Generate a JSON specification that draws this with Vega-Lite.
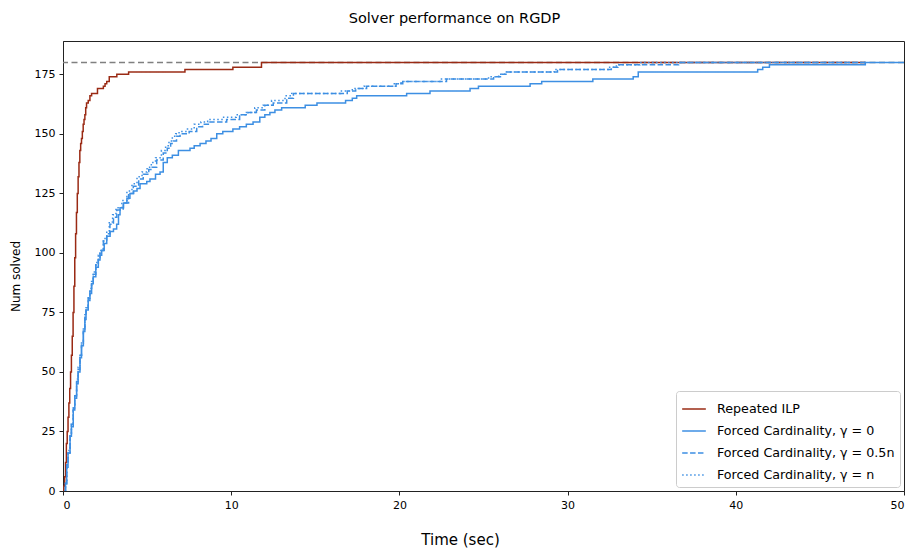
{
  "$schema": "https://vega.github.io/schema/vega-lite/v6.json",
  "width": 841,
  "height": 450,
  "autosize": {"type": "none"},
  "padding": {"left": 63, "top": 41, "right": 5, "bottom": 62},
  "background": "white",
  "title": {"text": "Solver performance on RGDP", "font": "DejaVu Sans", "fontSize": 14.5, "fontWeight": "normal", "color": "black", "anchor": "middle", "offset": 15, "dx": -29},
  "config": {
    "view": {"stroke": "#222", "strokeWidth": 1},
    "axis": {"grid": false, "labelFont": "DejaVu Sans", "titleFont": "DejaVu Sans", "labelFontSize": 11, "labelColor": "black", "titleColor": "black", "titleFontWeight": "normal", "domainColor": "#222", "tickColor": "#222", "tickSize": 4, "labelPadding": 4},
    "legend": {"labelFont": "DejaVu Sans", "labelFontSize": 12.7, "labelColor": "black", "labelLimit": 400}
  },
  "layer": [
    {
      "data": {"values": [{"ref": 180}]},
      "mark": {"type": "rule", "color": "#808080", "strokeWidth": 1.5, "strokeDash": [6, 3.5]},
      "encoding": {"y": {"field": "ref", "type": "quantitative", "scale": {"domain": [0, 189]}}}
    },
    {
      "data": {"values": [
        {"s": "Repeated ILP", "t": 0, "n": 0}, {"s": "Repeated ILP", "t": 0.05, "n": 2}, {"s": "Repeated ILP", "t": 0.1, "n": 6}, {"s": "Repeated ILP", "t": 0.15, "n": 12}, {"s": "Repeated ILP", "t": 0.2, "n": 20}, {"s": "Repeated ILP", "t": 0.25, "n": 25}, {"s": "Repeated ILP", "t": 0.3, "n": 31}, {"s": "Repeated ILP", "t": 0.35, "n": 37}, {"s": "Repeated ILP", "t": 0.4, "n": 43}, {"s": "Repeated ILP", "t": 0.45, "n": 50}, {"s": "Repeated ILP", "t": 0.5, "n": 57}, {"s": "Repeated ILP", "t": 0.55, "n": 65}, {"s": "Repeated ILP", "t": 0.6, "n": 75}, {"s": "Repeated ILP", "t": 0.65, "n": 86}, {"s": "Repeated ILP", "t": 0.7, "n": 98}, {"s": "Repeated ILP", "t": 0.75, "n": 108}, {"s": "Repeated ILP", "t": 0.8, "n": 117}, {"s": "Repeated ILP", "t": 0.85, "n": 125}, {"s": "Repeated ILP", "t": 0.9, "n": 132}, {"s": "Repeated ILP", "t": 0.95, "n": 138}, {"s": "Repeated ILP", "t": 1.0, "n": 143}, {"s": "Repeated ILP", "t": 1.05, "n": 146}, {"s": "Repeated ILP", "t": 1.1, "n": 148}, {"s": "Repeated ILP", "t": 1.15, "n": 151}, {"s": "Repeated ILP", "t": 1.2, "n": 154}, {"s": "Repeated ILP", "t": 1.25, "n": 156}, {"s": "Repeated ILP", "t": 1.3, "n": 158}, {"s": "Repeated ILP", "t": 1.35, "n": 161}, {"s": "Repeated ILP", "t": 1.4, "n": 163}, {"s": "Repeated ILP", "t": 1.5, "n": 164}, {"s": "Repeated ILP", "t": 1.6, "n": 166}, {"s": "Repeated ILP", "t": 1.7, "n": 167}, {"s": "Repeated ILP", "t": 2.05, "n": 169}, {"s": "Repeated ILP", "t": 2.4, "n": 170}, {"s": "Repeated ILP", "t": 2.5, "n": 171}, {"s": "Repeated ILP", "t": 2.6, "n": 172}, {"s": "Repeated ILP", "t": 2.75, "n": 174}, {"s": "Repeated ILP", "t": 3.2, "n": 175}, {"s": "Repeated ILP", "t": 3.9, "n": 176}, {"s": "Repeated ILP", "t": 7.25, "n": 177}, {"s": "Repeated ILP", "t": 10.1, "n": 178}, {"s": "Repeated ILP", "t": 11.8, "n": 180}, {"s": "Repeated ILP", "t": 47.7, "n": 180},

        {"s": "Forced Cardinality, γ = 0", "t": 0.1, "n": 0}, {"s": "Forced Cardinality, γ = 0", "t": 0.15, "n": 3}, {"s": "Forced Cardinality, γ = 0", "t": 0.22, "n": 10}, {"s": "Forced Cardinality, γ = 0", "t": 0.3, "n": 16}, {"s": "Forced Cardinality, γ = 0", "t": 0.42, "n": 23}, {"s": "Forced Cardinality, γ = 0", "t": 0.5, "n": 27}, {"s": "Forced Cardinality, γ = 0", "t": 0.61, "n": 34}, {"s": "Forced Cardinality, γ = 0", "t": 0.7, "n": 39}, {"s": "Forced Cardinality, γ = 0", "t": 0.81, "n": 45}, {"s": "Forced Cardinality, γ = 0", "t": 0.9, "n": 50}, {"s": "Forced Cardinality, γ = 0", "t": 1.01, "n": 56}, {"s": "Forced Cardinality, γ = 0", "t": 1.1, "n": 61}, {"s": "Forced Cardinality, γ = 0", "t": 1.21, "n": 67}, {"s": "Forced Cardinality, γ = 0", "t": 1.3, "n": 72}, {"s": "Forced Cardinality, γ = 0", "t": 1.37, "n": 76}, {"s": "Forced Cardinality, γ = 0", "t": 1.5, "n": 80}, {"s": "Forced Cardinality, γ = 0", "t": 1.6, "n": 83}, {"s": "Forced Cardinality, γ = 0", "t": 1.7, "n": 87}, {"s": "Forced Cardinality, γ = 0", "t": 1.8, "n": 90}, {"s": "Forced Cardinality, γ = 0", "t": 1.95, "n": 94}, {"s": "Forced Cardinality, γ = 0", "t": 2.1, "n": 97}, {"s": "Forced Cardinality, γ = 0", "t": 2.2, "n": 99}, {"s": "Forced Cardinality, γ = 0", "t": 2.3, "n": 101}, {"s": "Forced Cardinality, γ = 0", "t": 2.45, "n": 104}, {"s": "Forced Cardinality, γ = 0", "t": 2.6, "n": 107}, {"s": "Forced Cardinality, γ = 0", "t": 2.8, "n": 109}, {"s": "Forced Cardinality, γ = 0", "t": 3.0, "n": 110}, {"s": "Forced Cardinality, γ = 0", "t": 3.19, "n": 112}, {"s": "Forced Cardinality, γ = 0", "t": 3.3, "n": 116}, {"s": "Forced Cardinality, γ = 0", "t": 3.39, "n": 119}, {"s": "Forced Cardinality, γ = 0", "t": 3.6, "n": 121}, {"s": "Forced Cardinality, γ = 0", "t": 3.8, "n": 123}, {"s": "Forced Cardinality, γ = 0", "t": 3.98, "n": 125}, {"s": "Forced Cardinality, γ = 0", "t": 4.2, "n": 126}, {"s": "Forced Cardinality, γ = 0", "t": 4.4, "n": 127}, {"s": "Forced Cardinality, γ = 0", "t": 4.58, "n": 129}, {"s": "Forced Cardinality, γ = 0", "t": 4.98, "n": 130}, {"s": "Forced Cardinality, γ = 0", "t": 5.17, "n": 131}, {"s": "Forced Cardinality, γ = 0", "t": 5.5, "n": 133}, {"s": "Forced Cardinality, γ = 0", "t": 5.77, "n": 134}, {"s": "Forced Cardinality, γ = 0", "t": 5.96, "n": 138}, {"s": "Forced Cardinality, γ = 0", "t": 6.2, "n": 140}, {"s": "Forced Cardinality, γ = 0", "t": 6.5, "n": 141}, {"s": "Forced Cardinality, γ = 0", "t": 6.86, "n": 143}, {"s": "Forced Cardinality, γ = 0", "t": 7.55, "n": 144}, {"s": "Forced Cardinality, γ = 0", "t": 7.8, "n": 145}, {"s": "Forced Cardinality, γ = 0", "t": 8.15, "n": 146}, {"s": "Forced Cardinality, γ = 0", "t": 8.5, "n": 147}, {"s": "Forced Cardinality, γ = 0", "t": 8.8, "n": 148}, {"s": "Forced Cardinality, γ = 0", "t": 9.14, "n": 150}, {"s": "Forced Cardinality, γ = 0", "t": 9.5, "n": 151}, {"s": "Forced Cardinality, γ = 0", "t": 10.1, "n": 152}, {"s": "Forced Cardinality, γ = 0", "t": 10.5, "n": 153}, {"s": "Forced Cardinality, γ = 0", "t": 10.9, "n": 154}, {"s": "Forced Cardinality, γ = 0", "t": 11.3, "n": 155}, {"s": "Forced Cardinality, γ = 0", "t": 11.7, "n": 157}, {"s": "Forced Cardinality, γ = 0", "t": 12.0, "n": 158}, {"s": "Forced Cardinality, γ = 0", "t": 12.3, "n": 159}, {"s": "Forced Cardinality, γ = 0", "t": 12.6, "n": 160}, {"s": "Forced Cardinality, γ = 0", "t": 13.0, "n": 161}, {"s": "Forced Cardinality, γ = 0", "t": 14.4, "n": 162}, {"s": "Forced Cardinality, γ = 0", "t": 15.1, "n": 163}, {"s": "Forced Cardinality, γ = 0", "t": 16.8, "n": 164}, {"s": "Forced Cardinality, γ = 0", "t": 17.2, "n": 165}, {"s": "Forced Cardinality, γ = 0", "t": 17.46, "n": 166}, {"s": "Forced Cardinality, γ = 0", "t": 20.43, "n": 167}, {"s": "Forced Cardinality, γ = 0", "t": 21.82, "n": 168}, {"s": "Forced Cardinality, γ = 0", "t": 24.2, "n": 169}, {"s": "Forced Cardinality, γ = 0", "t": 24.7, "n": 170}, {"s": "Forced Cardinality, γ = 0", "t": 27.77, "n": 171}, {"s": "Forced Cardinality, γ = 0", "t": 28.46, "n": 172}, {"s": "Forced Cardinality, γ = 0", "t": 31.5, "n": 173}, {"s": "Forced Cardinality, γ = 0", "t": 33.9, "n": 174}, {"s": "Forced Cardinality, γ = 0", "t": 34.2, "n": 176}, {"s": "Forced Cardinality, γ = 0", "t": 41.3, "n": 177}, {"s": "Forced Cardinality, γ = 0", "t": 41.6, "n": 178}, {"s": "Forced Cardinality, γ = 0", "t": 42.0, "n": 179}, {"s": "Forced Cardinality, γ = 0", "t": 47.7, "n": 180}, {"s": "Forced Cardinality, γ = 0", "t": 50.5, "n": 180},

        {"s": "Forced Cardinality, γ = 0.5n", "t": 0.1, "n": 0}, {"s": "Forced Cardinality, γ = 0.5n", "t": 0.15, "n": 3}, {"s": "Forced Cardinality, γ = 0.5n", "t": 0.22, "n": 11}, {"s": "Forced Cardinality, γ = 0.5n", "t": 0.3, "n": 16}, {"s": "Forced Cardinality, γ = 0.5n", "t": 0.42, "n": 23}, {"s": "Forced Cardinality, γ = 0.5n", "t": 0.5, "n": 28}, {"s": "Forced Cardinality, γ = 0.5n", "t": 0.61, "n": 35}, {"s": "Forced Cardinality, γ = 0.5n", "t": 0.7, "n": 40}, {"s": "Forced Cardinality, γ = 0.5n", "t": 0.81, "n": 46}, {"s": "Forced Cardinality, γ = 0.5n", "t": 0.9, "n": 51}, {"s": "Forced Cardinality, γ = 0.5n", "t": 1.01, "n": 57}, {"s": "Forced Cardinality, γ = 0.5n", "t": 1.1, "n": 62}, {"s": "Forced Cardinality, γ = 0.5n", "t": 1.21, "n": 68}, {"s": "Forced Cardinality, γ = 0.5n", "t": 1.3, "n": 73}, {"s": "Forced Cardinality, γ = 0.5n", "t": 1.37, "n": 77}, {"s": "Forced Cardinality, γ = 0.5n", "t": 1.5, "n": 81}, {"s": "Forced Cardinality, γ = 0.5n", "t": 1.6, "n": 84}, {"s": "Forced Cardinality, γ = 0.5n", "t": 1.7, "n": 88}, {"s": "Forced Cardinality, γ = 0.5n", "t": 1.8, "n": 91}, {"s": "Forced Cardinality, γ = 0.5n", "t": 1.95, "n": 95}, {"s": "Forced Cardinality, γ = 0.5n", "t": 2.1, "n": 98}, {"s": "Forced Cardinality, γ = 0.5n", "t": 2.2, "n": 101}, {"s": "Forced Cardinality, γ = 0.5n", "t": 2.4, "n": 105}, {"s": "Forced Cardinality, γ = 0.5n", "t": 2.6, "n": 108}, {"s": "Forced Cardinality, γ = 0.5n", "t": 2.79, "n": 112}, {"s": "Forced Cardinality, γ = 0.5n", "t": 3.0, "n": 115}, {"s": "Forced Cardinality, γ = 0.5n", "t": 3.2, "n": 118}, {"s": "Forced Cardinality, γ = 0.5n", "t": 3.58, "n": 121}, {"s": "Forced Cardinality, γ = 0.5n", "t": 3.9, "n": 125}, {"s": "Forced Cardinality, γ = 0.5n", "t": 4.18, "n": 128}, {"s": "Forced Cardinality, γ = 0.5n", "t": 4.5, "n": 131}, {"s": "Forced Cardinality, γ = 0.5n", "t": 4.77, "n": 133}, {"s": "Forced Cardinality, γ = 0.5n", "t": 5.1, "n": 135}, {"s": "Forced Cardinality, γ = 0.5n", "t": 5.3, "n": 136}, {"s": "Forced Cardinality, γ = 0.5n", "t": 5.57, "n": 139}, {"s": "Forced Cardinality, γ = 0.5n", "t": 5.96, "n": 142}, {"s": "Forced Cardinality, γ = 0.5n", "t": 6.2, "n": 144}, {"s": "Forced Cardinality, γ = 0.5n", "t": 6.4, "n": 146}, {"s": "Forced Cardinality, γ = 0.5n", "t": 6.56, "n": 147}, {"s": "Forced Cardinality, γ = 0.5n", "t": 6.75, "n": 149}, {"s": "Forced Cardinality, γ = 0.5n", "t": 6.96, "n": 150}, {"s": "Forced Cardinality, γ = 0.5n", "t": 7.5, "n": 151}, {"s": "Forced Cardinality, γ = 0.5n", "t": 7.95, "n": 153}, {"s": "Forced Cardinality, γ = 0.5n", "t": 8.3, "n": 154}, {"s": "Forced Cardinality, γ = 0.5n", "t": 8.74, "n": 155}, {"s": "Forced Cardinality, γ = 0.5n", "t": 9.73, "n": 156}, {"s": "Forced Cardinality, γ = 0.5n", "t": 10.5, "n": 158}, {"s": "Forced Cardinality, γ = 0.5n", "t": 11.0, "n": 159}, {"s": "Forced Cardinality, γ = 0.5n", "t": 11.5, "n": 160}, {"s": "Forced Cardinality, γ = 0.5n", "t": 12.0, "n": 162}, {"s": "Forced Cardinality, γ = 0.5n", "t": 12.5, "n": 163}, {"s": "Forced Cardinality, γ = 0.5n", "t": 13.3, "n": 165}, {"s": "Forced Cardinality, γ = 0.5n", "t": 13.7, "n": 167}, {"s": "Forced Cardinality, γ = 0.5n", "t": 16.9, "n": 168}, {"s": "Forced Cardinality, γ = 0.5n", "t": 17.4, "n": 169}, {"s": "Forced Cardinality, γ = 0.5n", "t": 18.05, "n": 170}, {"s": "Forced Cardinality, γ = 0.5n", "t": 19.8, "n": 171}, {"s": "Forced Cardinality, γ = 0.5n", "t": 20.2, "n": 172}, {"s": "Forced Cardinality, γ = 0.5n", "t": 22.8, "n": 173}, {"s": "Forced Cardinality, γ = 0.5n", "t": 25.6, "n": 174}, {"s": "Forced Cardinality, γ = 0.5n", "t": 26.1, "n": 175}, {"s": "Forced Cardinality, γ = 0.5n", "t": 26.4, "n": 176}, {"s": "Forced Cardinality, γ = 0.5n", "t": 29.4, "n": 177}, {"s": "Forced Cardinality, γ = 0.5n", "t": 32.6, "n": 178}, {"s": "Forced Cardinality, γ = 0.5n", "t": 33.0, "n": 179}, {"s": "Forced Cardinality, γ = 0.5n", "t": 36.6, "n": 180}, {"s": "Forced Cardinality, γ = 0.5n", "t": 47.7, "n": 180},

        {"s": "Forced Cardinality, γ = n", "t": 0.1, "n": 0}, {"s": "Forced Cardinality, γ = n", "t": 0.15, "n": 4}, {"s": "Forced Cardinality, γ = n", "t": 0.22, "n": 11}, {"s": "Forced Cardinality, γ = n", "t": 0.3, "n": 17}, {"s": "Forced Cardinality, γ = n", "t": 0.42, "n": 24}, {"s": "Forced Cardinality, γ = n", "t": 0.5, "n": 28}, {"s": "Forced Cardinality, γ = n", "t": 0.61, "n": 35}, {"s": "Forced Cardinality, γ = n", "t": 0.7, "n": 40}, {"s": "Forced Cardinality, γ = n", "t": 0.81, "n": 47}, {"s": "Forced Cardinality, γ = n", "t": 0.9, "n": 52}, {"s": "Forced Cardinality, γ = n", "t": 1.01, "n": 57}, {"s": "Forced Cardinality, γ = n", "t": 1.1, "n": 63}, {"s": "Forced Cardinality, γ = n", "t": 1.21, "n": 68}, {"s": "Forced Cardinality, γ = n", "t": 1.3, "n": 74}, {"s": "Forced Cardinality, γ = n", "t": 1.37, "n": 77}, {"s": "Forced Cardinality, γ = n", "t": 1.5, "n": 82}, {"s": "Forced Cardinality, γ = n", "t": 1.6, "n": 85}, {"s": "Forced Cardinality, γ = n", "t": 1.7, "n": 88}, {"s": "Forced Cardinality, γ = n", "t": 1.8, "n": 92}, {"s": "Forced Cardinality, γ = n", "t": 1.95, "n": 96}, {"s": "Forced Cardinality, γ = n", "t": 2.1, "n": 99}, {"s": "Forced Cardinality, γ = n", "t": 2.2, "n": 101}, {"s": "Forced Cardinality, γ = n", "t": 2.4, "n": 106}, {"s": "Forced Cardinality, γ = n", "t": 2.6, "n": 109}, {"s": "Forced Cardinality, γ = n", "t": 2.75, "n": 113}, {"s": "Forced Cardinality, γ = n", "t": 2.95, "n": 116}, {"s": "Forced Cardinality, γ = n", "t": 3.15, "n": 119}, {"s": "Forced Cardinality, γ = n", "t": 3.5, "n": 122}, {"s": "Forced Cardinality, γ = n", "t": 3.8, "n": 126}, {"s": "Forced Cardinality, γ = n", "t": 4.1, "n": 129}, {"s": "Forced Cardinality, γ = n", "t": 4.4, "n": 132}, {"s": "Forced Cardinality, γ = n", "t": 4.7, "n": 134}, {"s": "Forced Cardinality, γ = n", "t": 5.0, "n": 136}, {"s": "Forced Cardinality, γ = n", "t": 5.25, "n": 138}, {"s": "Forced Cardinality, γ = n", "t": 5.5, "n": 140}, {"s": "Forced Cardinality, γ = n", "t": 5.85, "n": 143}, {"s": "Forced Cardinality, γ = n", "t": 6.1, "n": 145}, {"s": "Forced Cardinality, γ = n", "t": 6.3, "n": 147}, {"s": "Forced Cardinality, γ = n", "t": 6.5, "n": 149}, {"s": "Forced Cardinality, γ = n", "t": 6.7, "n": 150}, {"s": "Forced Cardinality, γ = n", "t": 6.9, "n": 151}, {"s": "Forced Cardinality, γ = n", "t": 7.4, "n": 152}, {"s": "Forced Cardinality, γ = n", "t": 7.8, "n": 154}, {"s": "Forced Cardinality, γ = n", "t": 8.2, "n": 155}, {"s": "Forced Cardinality, γ = n", "t": 8.6, "n": 156}, {"s": "Forced Cardinality, γ = n", "t": 9.5, "n": 157}, {"s": "Forced Cardinality, γ = n", "t": 10.3, "n": 158}, {"s": "Forced Cardinality, γ = n", "t": 10.9, "n": 159}, {"s": "Forced Cardinality, γ = n", "t": 11.4, "n": 161}, {"s": "Forced Cardinality, γ = n", "t": 11.9, "n": 162}, {"s": "Forced Cardinality, γ = n", "t": 12.4, "n": 164}, {"s": "Forced Cardinality, γ = n", "t": 13.2, "n": 166}, {"s": "Forced Cardinality, γ = n", "t": 13.6, "n": 167}, {"s": "Forced Cardinality, γ = n", "t": 16.5, "n": 168}, {"s": "Forced Cardinality, γ = n", "t": 17.2, "n": 169}, {"s": "Forced Cardinality, γ = n", "t": 17.9, "n": 170}, {"s": "Forced Cardinality, γ = n", "t": 19.6, "n": 171}, {"s": "Forced Cardinality, γ = n", "t": 20.1, "n": 172}, {"s": "Forced Cardinality, γ = n", "t": 22.5, "n": 173}, {"s": "Forced Cardinality, γ = n", "t": 25.3, "n": 174}, {"s": "Forced Cardinality, γ = n", "t": 25.9, "n": 175}, {"s": "Forced Cardinality, γ = n", "t": 26.3, "n": 176}, {"s": "Forced Cardinality, γ = n", "t": 29.2, "n": 177}, {"s": "Forced Cardinality, γ = n", "t": 32.5, "n": 178}, {"s": "Forced Cardinality, γ = n", "t": 32.9, "n": 179}, {"s": "Forced Cardinality, γ = n", "t": 34.3, "n": 180}, {"s": "Forced Cardinality, γ = n", "t": 47.7, "n": 180}
      ]},
      "mark": {"type": "line", "interpolate": "step-after", "strokeWidth": 1.5, "clip": true},
      "encoding": {
        "x": {"field": "t", "type": "quantitative", "scale": {"domain": [0, 50], "nice": false}, "axis": {"values": [0, 10, 20, 30, 40, 50], "title": "Time (sec)", "titleFontSize": 15, "titlePadding": 22, "titleX": 397, "titleAlign": "center"}},
        "y": {"field": "n", "type": "quantitative", "scale": {"domain": [0, 189], "nice": false}, "axis": {"values": [0, 25, 50, 75, 100, 125, 150, 175], "title": "Num solved", "titleFontSize": 12, "titlePadding": 12, "titleY": 235, "titleAlign": "center"}},
        "color": {"field": "s", "type": "nominal", "sort": null,
          "scale": {"domain": ["Repeated ILP", "Forced Cardinality, γ = 0", "Forced Cardinality, γ = 0.5n", "Forced Cardinality, γ = n"], "range": ["#9a2a14", "#3d8fe3", "#3d8fe3", "#3d8fe3"]},
          "legend": {"title": null, "orient": "bottom-right", "offset": 4, "symbolType": "stroke", "symbolSize": 560, "symbolStrokeWidth": 1.5, "fillColor": "white", "strokeColor": "#cccccc", "cornerRadius": 3, "padding": 5, "rowPadding": 2, "labelOffset": 10}},
        "strokeDash": {"field": "s", "type": "nominal", "sort": null,
          "scale": {"domain": ["Repeated ILP", "Forced Cardinality, γ = 0", "Forced Cardinality, γ = 0.5n", "Forced Cardinality, γ = n"], "range": [[1, 0], [1, 0], [5.5, 2.4], [1.5, 2.5]]},
          "legend": {"title": null, "orient": "bottom-right", "offset": 4, "symbolType": "stroke", "symbolSize": 560, "symbolStrokeWidth": 1.5, "fillColor": "white", "strokeColor": "#cccccc", "cornerRadius": 3, "padding": 5, "rowPadding": 2, "labelOffset": 10}}
      }
    }
  ]
}
